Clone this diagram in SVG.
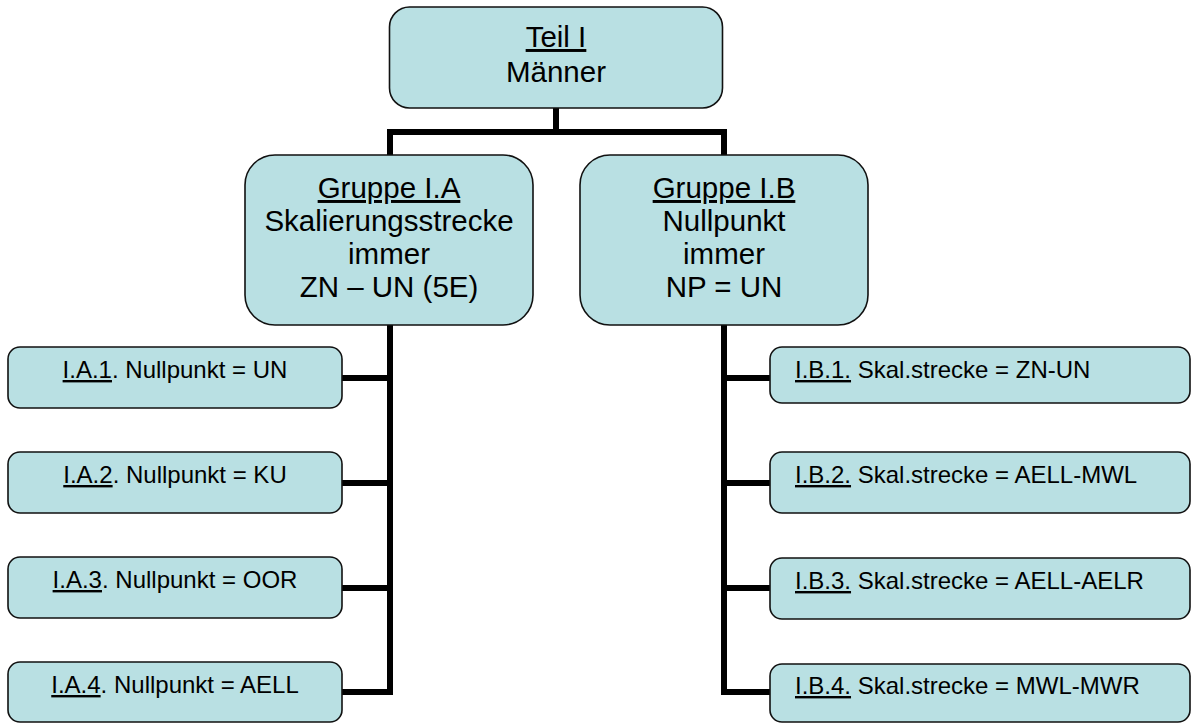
<svg xmlns="http://www.w3.org/2000/svg" width="1194" height="724" viewBox="0 0 1194 724">
<style>
.box{fill:#B9E0E3;stroke:#111;stroke-width:1.6}
.t{font-family:"Liberation Sans",Arial,sans-serif;fill:#000}
.big{font-size:29.5px;text-anchor:middle}
.sm{font-size:24px}
.c{text-anchor:middle}
.conn{stroke:#000;stroke-width:6;fill:none;stroke-linecap:butt;stroke-linejoin:miter}
</style>
<rect width="1194" height="724" fill="#fff"/>
<g id="connectors">
<path class="conn" d="M556,108 V132 M390,132 H724 M390,129 V155 M724,129 V155"/>
<path class="conn" d="M390,325 V695 M342,378 H393 M342,483 H393 M342,588 H393 M342,692 H393"/>
<path class="conn" d="M724,325 V695 M721,378 H770 M721,483 H770 M721,588 H770 M721,692 H770"/>
</g>
<g id="teil1">
<rect class="box" x="389.5" y="7" width="333" height="101" rx="20"/>
<text class="t big" x="556" y="47"><tspan text-decoration="underline">Teil I</tspan></text>
<text class="t big" x="556" y="82">Männer</text>
</g>
<g id="gruppeIA">
<rect class="box" x="245" y="155" width="288" height="170" rx="30"/>
<text class="t big" x="389" y="198"><tspan text-decoration="underline">Gruppe I.A</tspan></text>
<text class="t big" x="389" y="231">Skalierungsstrecke</text>
<text class="t big" x="389" y="264">immer</text>
<text class="t big" x="389" y="297">ZN – UN (5E)</text>
</g>
<g id="gruppeIB">
<rect class="box" x="580" y="155" width="288" height="170" rx="30"/>
<text class="t big" x="724" y="198"><tspan text-decoration="underline">Gruppe I.B</tspan></text>
<text class="t big" x="724" y="231">Nullpunkt</text>
<text class="t big" x="724" y="264">immer</text>
<text class="t big" x="724" y="297">NP = UN</text>
</g>
<g id="IA1">
<rect class="box" x="8" y="347" width="334" height="61" rx="12"/>
<text class="t sm c" x="175" y="378"><tspan text-decoration="underline">I.A.1</tspan>. Nullpunkt = UN</text>
</g>
<g id="IA2">
<rect class="box" x="8" y="452" width="334" height="61" rx="12"/>
<text class="t sm c" x="175" y="483"><tspan text-decoration="underline">I.A.2</tspan>. Nullpunkt = KU</text>
</g>
<g id="IA3">
<rect class="box" x="8" y="557" width="334" height="61" rx="12"/>
<text class="t sm c" x="175" y="588"><tspan text-decoration="underline">I.A.3</tspan>. Nullpunkt = OOR</text>
</g>
<g id="IA4">
<rect class="box" x="8" y="662" width="334" height="60" rx="12"/>
<text class="t sm c" x="175" y="693"><tspan text-decoration="underline">I.A.4</tspan>. Nullpunkt = AELL</text>
</g>
<g id="IB1">
<rect class="box" x="770" y="347" width="420" height="56" rx="12"/>
<text class="t sm" x="795" y="378"><tspan text-decoration="underline">I.B.1.</tspan> Skal.strecke = ZN-UN</text>
</g>
<g id="IB2">
<rect class="box" x="770" y="452" width="420" height="61" rx="12"/>
<text class="t sm" x="795" y="483"><tspan text-decoration="underline">I.B.2.</tspan> Skal.strecke = AELL-MWL</text>
</g>
<g id="IB3">
<rect class="box" x="770" y="558" width="420" height="61" rx="12"/>
<text class="t sm" x="795" y="589"><tspan text-decoration="underline">I.B.3.</tspan> Skal.strecke = AELL-AELR</text>
</g>
<g id="IB4">
<rect class="box" x="770" y="664" width="420" height="58" rx="12"/>
<text class="t sm" x="795" y="694"><tspan text-decoration="underline">I.B.4.</tspan> Skal.strecke = MWL-MWR</text>
</g>
</svg>
